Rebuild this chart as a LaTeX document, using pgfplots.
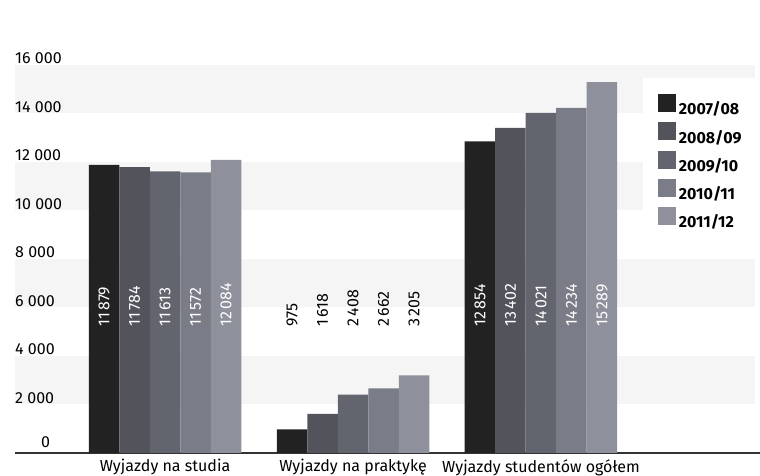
\documentclass[border=0pt]{standalone}
\usepackage{fontspec}
\setmainfont{Fira Sans}
\usepackage{pgfplots}
\pgfplotsset{compat=1.18}
\definecolor{cA}{HTML}{222222}
\definecolor{cB}{HTML}{53535C}
\definecolor{cC}{HTML}{63656E}
\definecolor{cD}{HTML}{7A7C87}
\definecolor{cE}{HTML}{8E919C}
\definecolor{band}{HTML}{F5F5F5}
\newcommand{\fs}{\fontsize{16}{18}\selectfont}
\begin{document}
\begin{tikzpicture}[x=1pt,y=1pt]
\begin{axis}[
  at={(15pt,23pt)}, anchor=south west,
  scale only axis, width=745pt, height=388pt,
  xmin=-0.798, xmax=3.165, ymin=0, ymax=16000,
  set layers,
  scaled y ticks=false,
  axis x line*=bottom, axis y line*=left,
  x axis line style={draw=black!80, line width=1.3pt},
  y axis line style={draw=none},
  major tick length=0pt,
  ytick={0,2000,...,16000},
  yticklabels={\hspace*{26pt}\raisebox{4pt}{0},2 000,4 000,6 000,8 000,10 000,12 000,14 000,16 000},
  yticklabel style={anchor=south west, inner sep=0pt, yshift=1pt, font=\fs},
  xtick={0,1,2},
  xticklabels={Wyjazdy na studia, Wyjazdy na praktykę, Wyjazdy studentów ogółem},
  xticklabel style={anchor=north, inner sep=0pt, yshift=-6pt, font=\fs},
  ybar=0pt, bar width=30.5pt,
  legend image code/.code={\fill[#1] (0pt,-3pt) rectangle (18pt,15pt);},
  legend cell align=left,
  legend style={at={(0.863,0.9253)}, anchor=north west, draw=none, fill=none,
    inner sep=0pt, outer sep=0pt, row sep=6pt, column sep=3pt,
    nodes={inner sep=0pt, font=\fs\bfseries}},
]
\begin{pgfonlayer}{axis background}
\fill[band] (axis cs:-0.798,14000) rectangle (axis cs:3.136,16000);
\fill[band] (axis cs:-0.798,10000) rectangle (axis cs:3.136,12000);
\fill[band] (axis cs:-0.798,6000) rectangle (axis cs:3.136,8000);
\fill[band] (axis cs:-0.798,2000) rectangle (axis cs:3.136,4000);
\fill[white] (axis cs:2.540,9900) rectangle (axis cs:3.136,15460);
\end{pgfonlayer}
\addplot[fill=cA, draw=none] coordinates {(0,11879) (1,975) (2,12854)};
\addplot[fill=cB, draw=none] coordinates {(0,11784) (1,1618) (2,13402)};
\addplot[fill=cC, draw=none] coordinates {(0,11613) (1,2408) (2,14021)};
\addplot[fill=cD, draw=none] coordinates {(0,11572) (1,2662) (2,14234)};
\addplot[fill=cE, draw=none] coordinates {(0,12084) (1,3205) (2,15289)};
\legend{2007/08,2008/09,2009/10,2010/11,2011/12}
\begin{scope}[every node/.style={rotate=90, anchor=west, inner sep=0pt, font=\fs}]
\node[text=white] at (axis cs:-0.3245,5200) {11\,879};
\node[text=white] at (axis cs:-0.1622,5200) {11\,784};
\node[text=white] at (axis cs:0,5200) {11\,613};
\node[text=white] at (axis cs:0.1622,5200) {11\,572};
\node[text=white] at (axis cs:0.3245,5200) {12\,084};
\node[text=black] at (axis cs:0.6755,5200) {975};
\node[text=black] at (axis cs:0.8378,5200) {1\,618};
\node[text=black] at (axis cs:1,5200) {2\,408};
\node[text=black] at (axis cs:1.1622,5200) {2\,662};
\node[text=black] at (axis cs:1.3245,5200) {3\,205};
\node[text=white] at (axis cs:1.6755,5200) {12\,854};
\node[text=white] at (axis cs:1.8378,5200) {13\,402};
\node[text=white] at (axis cs:2,5200) {14\,021};
\node[text=white] at (axis cs:2.1622,5200) {14\,234};
\node[text=white] at (axis cs:2.3245,5200) {15\,289};
\end{scope}
\end{axis}
\pgfresetboundingbox
\useasboundingbox (0,0) rectangle (760,476);
\end{tikzpicture}
\end{document}
